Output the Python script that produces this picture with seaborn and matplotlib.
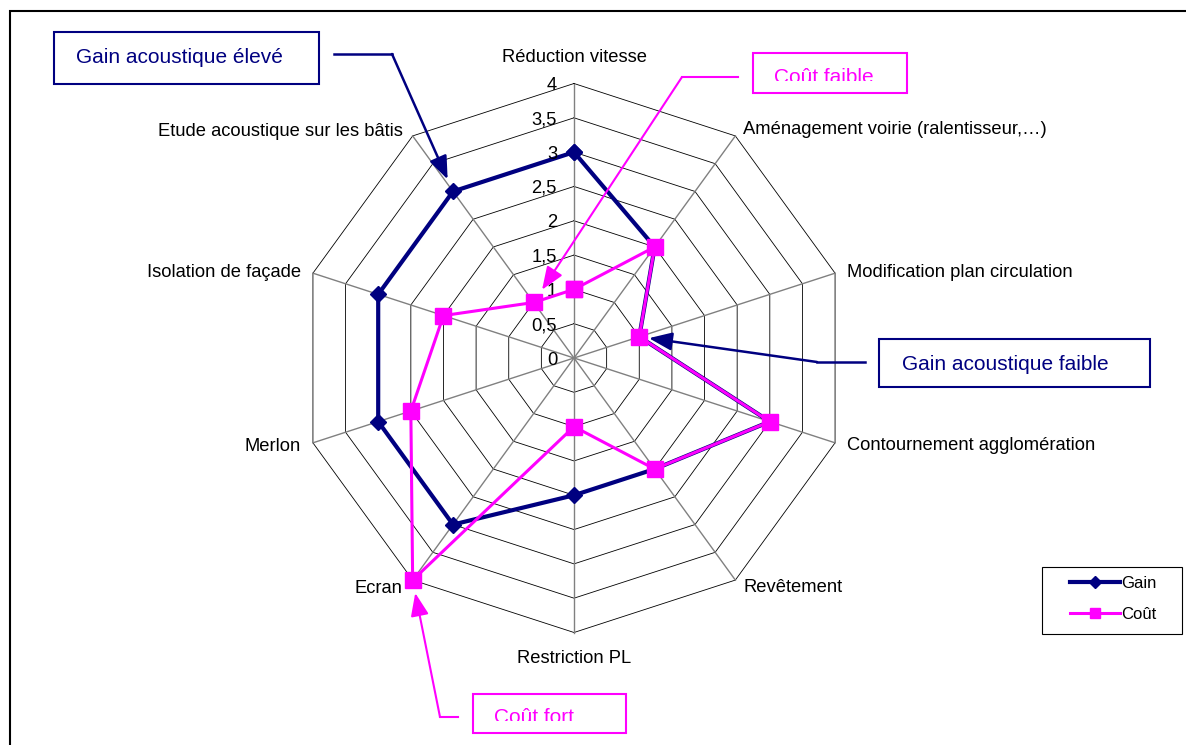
import numpy as np
import pandas as pd
import matplotlib
matplotlib.use("Agg")
import matplotlib.pyplot as plt
from matplotlib.patches import Rectangle
from matplotlib.lines import Line2D
from matplotlib.transforms import Bbox, TransformedBbox
import seaborn as sns

plt.rcParams["font.family"] = ["Liberation Sans", "DejaVu Sans"]

# chart data
categories = [
    "Réduction vitesse",
    "Aménagement voirie (ralentisseur,…)",
    "Modification plan circulation",
    "Contournement agglomération",
    "Revêtement",
    "Restriction PL",
    "Ecran",
    "Merlon",
    "Isolation de façade",
    "Etude acoustique sur les bâtis",
]
gain = [3, 2, 1, 3, 2, 2, 3, 3, 3, 3]
cout = [1, 2, 1, 3, 2, 1, 4, 2.5, 2, 1]
levels = [0, 0.5, 1, 1.5, 2, 2.5, 3, 3.5, 4]
level_labels = ["0", "0,5", "1", "1,5", "2", "2,5", "3", "3,5", "4"]

NAVY = "#000080"
MAGENTA = "#FF00FF"

W, H = 1186, 745


def fx(x):
    return x / W


def fy(y):
    return 1 - y / H


n = len(categories)
theta = np.linspace(0, 2 * np.pi, n, endpoint=False)
theta_closed = np.append(theta, 2 * np.pi)

df = pd.DataFrame({
    "theta": np.concatenate([theta_closed, theta_closed]),
    "value": gain + gain[:1] + cout + cout[:1],
    "serie": ["Gain"] * (n + 1) + ["Coût"] * (n + 1),
})

fig = plt.figure(figsize=(W / 100, H / 100), dpi=100)

# polar axes centred at (574, 358) px, radius 274.5 px
cx, cy, R = 574, 358, 274.5
ax = fig.add_axes([fx(cx - R), fy(cy + R), 2 * R / W, 2 * R / H], projection="polar")
ax.set_theta_zero_location("N")
ax.set_theta_direction(-1)

# decagon grid + spokes
for lv in levels[1:]:
    ax.plot(theta_closed, [lv] * (n + 1), color="black", lw=0.6, zorder=1, clip_on=False)
for t in theta:
    ax.plot([t, t], [0, levels[-1]], color="#808080", lw=1.0, zorder=1, clip_on=False)

# series
sns.lineplot(data=df[df.serie == "Gain"], x="theta", y="value", sort=False, estimator=None,
             color=NAVY, lw=3, marker="D", ms=8.5, mec=NAVY, mfc=NAVY, mew=1,
             label="Gain", ax=ax, zorder=3, clip_on=False)
sns.lineplot(data=df[df.serie == "Coût"], x="theta", y="value", sort=False, estimator=None,
             color=MAGENTA, lw=2.2, marker="s", ms=11, mec=MAGENTA, mfc=MAGENTA, mew=1,
             label="Coût", ax=ax, zorder=4, clip_on=False)

ax.set_ylim(0, levels[-1])
ax.set_axis_off()

# category labels (offset in px from outer vertex)
label_pos = [(0, 22, "center"), (8, 1.5, "left"), (12, -3.5, "left"), (12, -7.5, "left"),
             (8, -11.5, "left"), (0, -30.5, "center"), (-10, -12.5, "right"),
             (-12, -8.5, "right"), (-12, -3.5, "right"), (-10, 0, "right")]
for t, lab, (dx, dy, ha) in zip(theta, categories, label_pos):
    ax.annotate(lab, xy=(t, levels[-1]), xytext=(dx, dy), textcoords="offset pixels",
                ha=ha, va="baseline", fontsize=13.2, annotation_clip=False)

# radial tick labels
for lv, lab in zip(levels, level_labels):
    ax.annotate(lab, xy=(0, lv), xytext=(-17, -6.5), textcoords="offset pixels",
                ha="right", va="baseline", fontsize=13.2, annotation_clip=False)

# outer frame
fig.add_artist(Rectangle((fx(10), fy(760)), 1200 / W, 749 / H, transform=fig.transFigure,
                         fill=False, ec="black", lw=1.5))


def callout(text, box, color, text_xy, clip_y, line_pts, target, shrink, lw):
    x0, y0, x1, y1 = box
    fig.add_artist(Rectangle((fx(x0), fy(y1)), (x1 - x0) / W, (y1 - y0) / H,
                             transform=fig.transFigure, fill=False, ec=color, lw=1.5, zorder=5))
    t = fig.text(fx(text_xy[0]), fy(text_xy[1]), text, color=color, fontsize=15,
                 ha="left", va="baseline", zorder=6)
    if clip_y is not None:
        bb = Bbox.from_extents(fx(x0), fy(clip_y), fx(x1), fy(y0))
        t.set_clip_box(TransformedBbox(bb, fig.transFigure))
        t.set_clip_on(True)
    (ax_, ay_), (bx_, by_) = line_pts
    fig.add_artist(Line2D([fx(ax_), fx(bx_)], [fy(ay_), fy(by_)], transform=fig.transFigure,
                          color=color, lw=lw, zorder=5))
    ax.annotate("", xy=target, xycoords="data", xytext=(fx(bx_), fy(by_)),
                textcoords="figure fraction", annotation_clip=False,
                arrowprops=dict(arrowstyle="-|>,head_length=1.4,head_width=0.55",
                                color=color, lw=lw, shrinkA=0, shrinkB=shrink,
                                mutation_scale=10),
                zorder=6)


callout("Gain acoustique élevé", (54, 32, 319, 84), NAVY, (76, 63), None,
        ((334, 54), (392, 54)), (theta[9], gain[9]), 9.5, 1.8)
callout("Coût faible", (753, 53, 907, 93), MAGENTA, (774, 83), 81,
        ((738, 77), (682, 77)), (theta[9], cout[9]), 11, 1.5)
callout("Gain acoustique faible", (879, 339, 1150, 387), NAVY, (902, 370), None,
        ((865, 362), (817, 362)), (theta[2], gain[2]), 7, 1.8)
callout("Coût fort", (473, 694, 626, 733), MAGENTA, (494, 723), 721,
        ((458, 717), (440, 717)), (theta[6], cout[6]), 9.5, 1.5)

# legend
fig.add_artist(Rectangle((fx(1042), fy(634)), 140 / W, 67 / H, transform=fig.transFigure,
                         fill=False, ec="black", lw=0.8))
handles, labels = ax.get_legend_handles_labels()
ax.legend(handles, labels, loc="center left", bbox_to_anchor=(fx(1070), fy(599)),
          bbox_transform=fig.transFigure, frameon=False, fontsize=12, borderpad=0,
          borderaxespad=0, handlelength=3.0, handletextpad=0.05, labelspacing=0.95,
          markerscale=0.7)

fig.savefig("out.png", dpi=100, facecolor="white")
